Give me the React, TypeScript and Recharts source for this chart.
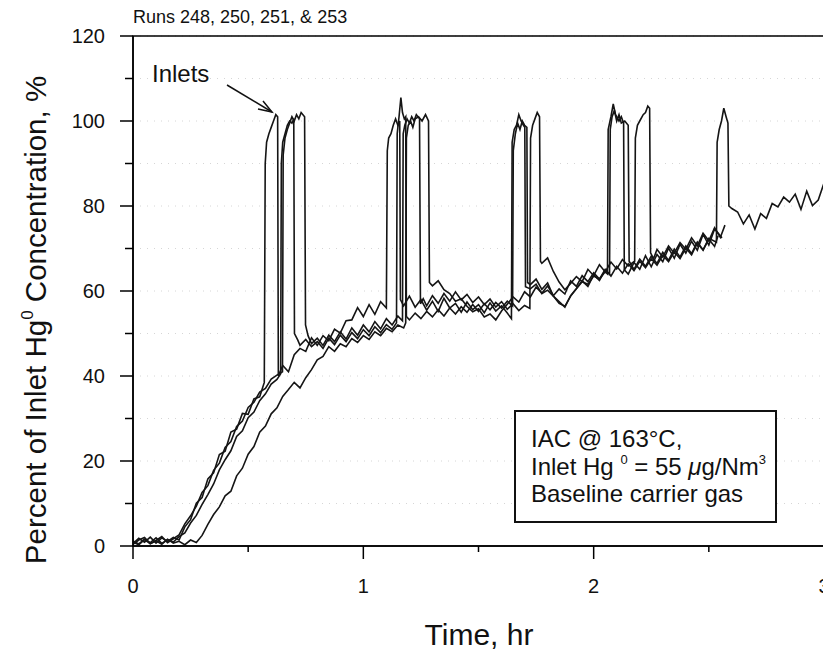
import { LineChart, Line, XAxis, YAxis, CartesianGrid, ReferenceArea } from "recharts";

// time (hr), percent of inlet Hg0
const run248: [number, number][] = [
  [0, 0.6], [0.025, 1.8], [0.05, 0.9], [0.075, 2.1], [0.1, 0.7], [0.125, 1.9], [0.15, 1.1], [0.175, 2.0], [0.2, 1.4],
  [0.225, 4.5], [0.25, 6.2], [0.275, 10.1], [0.3, 11.4], [0.325, 15.8], [0.35, 17.2], [0.375, 21.5], [0.4, 22.3],
  [0.425, 26.8], [0.45, 27.5], [0.475, 31.2], [0.5, 31.0], [0.525, 34.6], [0.55, 35.1], [0.57, 38.5],
  [0.574, 90], [0.58, 95], [0.59, 97], [0.6, 98.5], [0.61, 100], [0.62, 101.5], [0.628, 101], [0.631, 40],
  [0.65, 42.5], [0.675, 41], [0.7, 45], [0.725, 46.5], [0.75, 45.8], [0.775, 49], [0.8, 47.2], [0.825, 49.5],
  [0.85, 48.3], [0.875, 51], [0.9, 50.1], [0.925, 53], [0.95, 53.2], [0.975, 56.1], [1.0, 54], [1.025, 56.8],
  [1.05, 54.5], [1.075, 57.5], [1.1, 56],
  [1.104, 93], [1.11, 96], [1.12, 97], [1.13, 99], [1.14, 100.5], [1.15, 99], [1.158, 100], [1.161, 58],
  [1.175, 56.5], [1.2, 58.8], [1.225, 56.2], [1.25, 58], [1.275, 55.5], [1.3, 57.6], [1.325, 55.2], [1.35, 58.3],
  [1.375, 56], [1.4, 57.1], [1.425, 55], [1.45, 57.4], [1.475, 55.6], [1.5, 56.8], [1.525, 54.9], [1.55, 57.2],
  [1.575, 55.3], [1.6, 56.5], [1.625, 54.8], [1.643, 53.5],
  [1.646, 95], [1.655, 98], [1.665, 99], [1.675, 101.5], [1.685, 100], [1.695, 99], [1.701, 98.5], [1.704, 61],
  [1.725, 60.5], [1.75, 61.6], [1.775, 59.4], [1.8, 60.2], [1.825, 58.8], [1.85, 57.1], [1.875, 56.4], [1.9, 58.8],
  [1.925, 60.5], [1.95, 62.2], [1.975, 61.6], [2.0, 63.5], [2.025, 62.8], [2.05, 64.5], [2.06, 64],
  [2.063, 98], [2.075, 101], [2.085, 104], [2.095, 101.5], [2.11, 100], [2.12, 101], [2.13, 99.5], [2.133, 65],
  [2.15, 64], [2.175, 66.7], [2.2, 65.1], [2.225, 68.3], [2.25, 65.7], [2.275, 68.6], [2.3, 66.9], [2.325, 70.1],
  [2.35, 67.7], [2.375, 71], [2.4, 68.9], [2.425, 71.7], [2.45, 69.6], [2.475, 73.3], [2.5, 70.8], [2.525, 74.6],
  [2.557, 72.5],
];

const run250: [number, number][] = [
  [0, 1.2], [0.025, 0.5], [0.05, 1.6], [0.075, 0.8], [0.1, 1.9], [0.125, 0.6], [0.15, 1.5], [0.175, 0.9], [0.2, 2.2],
  [0.225, 3.1], [0.25, 5.4], [0.275, 7.2], [0.3, 9.8], [0.325, 12.1], [0.35, 14.6], [0.375, 17.9], [0.4, 20.3],
  [0.425, 22.4], [0.45, 25.8], [0.475, 27.1], [0.5, 30.2], [0.525, 31.5], [0.55, 34.2], [0.575, 35.8], [0.6, 38.1],
  [0.625, 39.2], [0.641, 40.5],
  [0.644, 90], [0.65, 95], [0.66, 97], [0.67, 99], [0.68, 100], [0.69, 99.5], [0.698, 100.5], [0.701, 50],
  [0.715, 48.5], [0.725, 47.2], [0.75, 48.6], [0.775, 46.9], [0.8, 48.1], [0.825, 46.5], [0.85, 48.9], [0.875, 47.4],
  [0.9, 49.6], [0.925, 48.1], [0.95, 50.2], [0.975, 48.8], [1.0, 50.9], [1.025, 49.5], [1.05, 51.6], [1.075, 50.2],
  [1.1, 52.1], [1.125, 51], [1.144, 52.5],
  [1.147, 97], [1.155, 101], [1.163, 105.5], [1.17, 102], [1.178, 100.5], [1.184, 101], [1.187, 54],
  [1.2, 53.2], [1.225, 54.8], [1.25, 53.5], [1.275, 55.2], [1.3, 53.9], [1.325, 55.6], [1.35, 54.1], [1.375, 56],
  [1.4, 54.6], [1.425, 56.3], [1.45, 55], [1.475, 56.8], [1.5, 55.2], [1.525, 57], [1.55, 55.6], [1.575, 57.3],
  [1.6, 56], [1.625, 57.6], [1.648, 56.5],
  [1.651, 93], [1.66, 97], [1.67, 99.5], [1.68, 98], [1.69, 100], [1.7, 99], [1.71, 98.5], [1.713, 62],
  [1.725, 61.5], [1.75, 62.8], [1.775, 60.4], [1.8, 61.9], [1.825, 58.8], [1.85, 57.5], [1.875, 56.2], [1.9, 58.9],
  [1.925, 60.6], [1.95, 62.4], [1.975, 61.1], [2.0, 63.8], [2.025, 62.5], [2.05, 64.9], [2.069, 64],
  [2.072, 98], [2.08, 101], [2.09, 102.5], [2.1, 100], [2.11, 101.5], [2.12, 99.5], [2.135, 100], [2.15, 99], [2.154, 67],
  [2.175, 65.1], [2.2, 67.5], [2.225, 65.8], [2.25, 68.2], [2.275, 66.5], [2.3, 69.1], [2.325, 67.2], [2.35, 69.9],
  [2.375, 68], [2.4, 70.6], [2.425, 68.8], [2.45, 71.5], [2.475, 69.6], [2.5, 72.2], [2.525, 70.5], [2.54, 73],
];

const run251: [number, number][] = [
  [0, 0.4], [0.025, 1.4], [0.05, 2.0], [0.075, 0.6], [0.1, 1.3], [0.125, 2.2], [0.15, 0.8], [0.175, 1.7], [0.2, 2.6],
  [0.225, 5.2], [0.25, 7.1], [0.275, 9.4], [0.3, 12.6], [0.325, 14.2], [0.35, 17.8], [0.375, 19.5], [0.4, 23.2],
  [0.425, 24.6], [0.45, 28.1], [0.475, 29.4], [0.5, 32.6], [0.525, 33.8], [0.55, 36.2], [0.575, 37.1], [0.6, 39.3],
  [0.625, 40.2], [0.649, 41],
  [0.652, 92], [0.66, 96], [0.67, 98], [0.68, 99.5], [0.69, 101], [0.7, 100], [0.71, 101.5], [0.72, 100.5],
  [0.73, 102], [0.745, 101], [0.749, 52],
  [0.76, 49.5], [0.775, 47.6], [0.8, 48.9], [0.825, 47.2], [0.85, 49.6], [0.875, 48.1], [0.9, 50.4], [0.925, 48.7],
  [0.95, 51.3], [0.975, 49.6], [1.0, 52], [1.025, 50.4], [1.05, 52.8], [1.075, 51.1], [1.1, 53.5], [1.125, 52],
  [1.15, 54.1], [1.17, 53],
  [1.173, 97], [1.18, 99], [1.19, 100.5], [1.2, 99.5], [1.21, 101], [1.22, 100], [1.23, 101.5], [1.244, 100.5], [1.248, 57],
  [1.26, 58.2], [1.275, 56.5], [1.3, 58.9], [1.325, 57.1], [1.35, 59.4], [1.375, 57.6], [1.4, 59.8], [1.425, 57.9],
  [1.45, 59.2], [1.475, 57.3], [1.5, 58.6], [1.525, 56.8], [1.55, 58.1], [1.575, 56.2], [1.6, 57.5], [1.625, 55.7],
  [1.65, 57], [1.675, 55.4], [1.7, 56.6], [1.723, 55.9],
  [1.726, 96], [1.735, 99], [1.745, 100.5], [1.755, 102], [1.765, 101], [1.769, 67],
  [1.775, 66.5], [1.8, 67.8], [1.825, 64.6], [1.85, 62.1], [1.875, 60.3], [1.9, 61.8], [1.925, 63.4], [1.95, 62.2],
  [1.975, 65.1], [2.0, 63.6], [2.025, 66.2], [2.05, 64.5], [2.075, 66.8], [2.1, 65.2], [2.125, 67.4], [2.15, 65.9],
  [2.178, 67],
  [2.181, 96], [2.19, 99], [2.2, 100], [2.215, 101.5], [2.225, 102], [2.235, 103.5], [2.243, 103], [2.247, 69],
  [2.26, 67.6], [2.275, 69.8], [2.3, 68], [2.325, 70.6], [2.35, 68.9], [2.375, 71.4], [2.4, 69.8], [2.425, 72.5],
  [2.45, 70.6], [2.475, 73.6], [2.5, 71.8], [2.525, 74.9], [2.55, 72.6], [2.57, 75.5],
];

const run253: [number, number][] = [
  [0, 0.9], [0.025, 0.3], [0.05, 1.5], [0.075, 0.5], [0.1, 1.2], [0.125, 0.4], [0.15, 1.6], [0.175, 0.7], [0.2, 1.1],
  [0.225, 0.3], [0.25, 1.4], [0.275, 0.8], [0.3, 2.5], [0.325, 5.1], [0.35, 7.4], [0.375, 9.2], [0.4, 11.8],
  [0.425, 12.9], [0.45, 16.5], [0.475, 18.3], [0.5, 21.6], [0.525, 23.4], [0.55, 26.8], [0.575, 28.2], [0.6, 31.1],
  [0.625, 32.5], [0.65, 35.2], [0.675, 36.8], [0.7, 38.5], [0.725, 37.2], [0.75, 39.6], [0.775, 41.5], [0.8, 43.8],
  [0.825, 44.6], [0.85, 46.9], [0.875, 45.8], [0.9, 47.6], [0.925, 46.9], [0.95, 48.8], [0.975, 47.9], [1.0, 49.5],
  [1.025, 48.6], [1.05, 50.4], [1.075, 49.5], [1.1, 51.2], [1.125, 50.4], [1.15, 52], [1.175, 51.3], [1.184, 52.5],
  [1.187, 96], [1.195, 99], [1.205, 100], [1.215, 98.5], [1.225, 100.5], [1.24, 101], [1.255, 100], [1.27, 101.5],
  [1.283, 100], [1.287, 62],
  [1.3, 61.2], [1.325, 62.4], [1.35, 60.3], [1.375, 59.4], [1.4, 57.6], [1.425, 58.2], [1.45, 56.4], [1.475, 55.1],
  [1.5, 55.8], [1.525, 53.9], [1.55, 54.6], [1.575, 53.2], [1.6, 55.3], [1.625, 56.9], [1.65, 58.6], [1.675, 57.4],
  [1.7, 59.8], [1.725, 58.6], [1.75, 60.9], [1.775, 59.5], [1.8, 61.2], [1.825, 58.9], [1.85, 60.5], [1.875, 59.3],
  [1.9, 62.4], [1.925, 61.1], [1.95, 63.6], [1.975, 62.2], [2.0, 64.3], [2.025, 62.8], [2.05, 65.1], [2.075, 63.5],
  [2.1, 65.8], [2.125, 64.2], [2.15, 66.4], [2.175, 64.8], [2.2, 67], [2.225, 65.5], [2.25, 67.6], [2.275, 66.1],
  [2.3, 68.4], [2.325, 66.9], [2.35, 69.2], [2.375, 67.6], [2.4, 70.1], [2.425, 68.5], [2.45, 71.3], [2.475, 69.7],
  [2.5, 72.4], [2.533, 71.5],
  [2.536, 95], [2.545, 98], [2.555, 100], [2.565, 103], [2.575, 101], [2.583, 99.5], [2.587, 80],
  [2.6, 79.4], [2.625, 78.6], [2.65, 75.8], [2.675, 77.9], [2.7, 74.6], [2.725, 78.2], [2.75, 77.1], [2.775, 80.6],
  [2.8, 79.8], [2.825, 82.1], [2.85, 80.9], [2.875, 82.8], [2.9, 79.2], [2.925, 83.5], [2.95, 80.1], [2.975, 81.4],
  [3.0, 85.4],
];

const runs = [
  { name: "248", points: run248 },
  { name: "250", points: run250 },
  { name: "251", points: run251 },
  { name: "253", points: run253 },
];

const xTicks = [0, 0.5, 1, 1.5, 2, 2.5, 3];
const yTicks = [0, 10, 20, 30, 40, 50, 60, 70, 80, 90, 100, 110, 120];

const font = "'Liberation Sans', Arial, Helvetica, sans-serif";

const XTick = (props: any) => {
  const { x, y, payload } = props;
  const major = Number.isInteger(payload.value);
  return (
    <g>
      <line x1={x} x2={x} y1={y} y2={y + (major ? 13 : 6)} stroke="#000" strokeWidth={1.5} />
      {major && (
        <text x={x} y={y + 47} textAnchor="middle" fontSize={20} fill="#111">
          {payload.value}
        </text>
      )}
    </g>
  );
};

const YTick = (props: any) => {
  const { x, y, payload } = props;
  const major = payload.value % 20 === 0;
  return (
    <g>
      <line x1={x - (major ? 13 : 8)} x2={x} y1={y} y2={y} stroke="#000" strokeWidth={1.5} />
      {major && (
        <text x={x - 28} y={y + 7} textAnchor="end" fontSize={20} fill="#111">
          {payload.value}
        </text>
      )}
    </g>
  );
};

export default function App() {
  return (
    <div style={{ position: "relative", width: 823, height: 647, fontFamily: font, background: "#fff" }}>
      <LineChart width={823} height={647} margin={{ top: 28, right: 7, bottom: 79, left: 65 }}>
        <CartesianGrid horizontal vertical={false} stroke="#d6d6d6" strokeDasharray="1 6" />
        <XAxis
          dataKey="t"
          type="number"
          domain={[0, 3]}
          ticks={xTicks}
          height={30}
          tickSize={0}
          tickMargin={0}
          tick={<XTick />}
          axisLine={{ stroke: "#000", strokeWidth: 1.5 }}
          allowDataOverflow
        />
        <YAxis
          type="number"
          domain={[0, 120]}
          ticks={yTicks}
          width={60}
          tickSize={0}
          tickMargin={0}
          tick={<YTick />}
          axisLine={{ stroke: "#000", strokeWidth: 1.5 }}
          allowDataOverflow
        />
        <ReferenceArea x1={0} x2={3} y1={0} y2={120} stroke="#000" strokeWidth={1.5} fill="none" fillOpacity={0} />
        {runs.map((r) => (
          <Line
            key={r.name}
            name={r.name}
            data={r.points.map(([t, v]) => ({ t, v }))}
            dataKey="v"
            type="linear"
            stroke="#151515"
            strokeWidth={1.6}
            dot={false}
            isAnimationActive={false}
          />
        ))}
      </LineChart>
      <svg
        width={823}
        height={647}
        style={{ position: "absolute", left: 0, top: 0, pointerEvents: "none", fontFamily: font }}
      >
        <text x={125} y={15} fontSize={18} fill="#111">
          Runs 248, 250, 251, &amp; 253
        </text>
        <text x={144} y={74} fontSize={24} fill="#111">
          Inlets
        </text>
        <line x1={219} y1={77} x2={264} y2={104} stroke="#111" strokeWidth={1.5} />
        <polyline points="255,93 264,104 250,101" fill="none" stroke="#111" strokeWidth={1.5} />
        <rect x={507} y={403} width={261} height={111} fill="#fff" stroke="#111" strokeWidth={2} />
        <text x={523} y={439} fontSize={24} fill="#111">
          IAC @ 163°C,
        </text>
        <text x={523} y={467} fontSize={24} fill="#111">
          Inlet Hg <tspan fontSize={13} dy={-11}>0</tspan>
          <tspan dy={11}> = 55 </tspan>
          <tspan fontStyle="italic">μ</tspan>g/Nm<tspan fontSize={13} dy={-11}>3</tspan>
        </text>
        <text x={523} y={494} fontSize={24} fill="#111">
          Baseline carrier gas
        </text>
        <text x={471} y={637} fontSize={30} textAnchor="middle" fill="#111">
          Time, hr
        </text>
        <text
          x={38}
          y={312}
          fontSize={29.5}
          textAnchor="middle"
          fill="#111"
          transform="rotate(-90, 38, 312)"
        >
          Percent of Inlet Hg<tspan fontSize={17} dy={-13}>0</tspan>
          <tspan dy={13}> Concentration, %</tspan>
        </text>
      </svg>
    </div>
  );
}
